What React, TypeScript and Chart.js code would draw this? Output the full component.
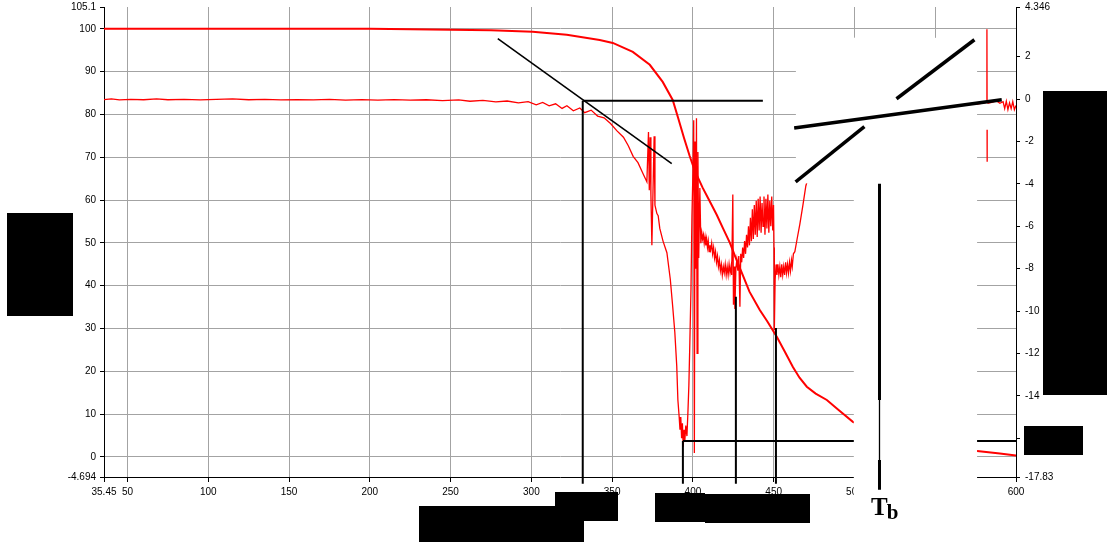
import React, { useEffect, useRef } from 'react';
import { Chart, registerables } from 'chart.js';

Chart.register(...registerables);

// ---------- axes ----------
const X_MIN = 35.45;
const X_MAX = 600;
const X_TICKS = [35.45, 50, 100, 150, 200, 250, 300, 350, 400, 450, 500, 550, 600];
const Y_MIN = -4.694;
const Y_MAX = 105.1;
const Y_TICKS = [-4.694, 0, 10, 20, 30, 40, 50, 60, 70, 80, 90, 100, 105.1];
const Y1_MIN = -17.83;
const Y1_MAX = 4.346;
const Y1_TICKS = [-17.83, -16, -14, -12, -10, -8, -6, -4, -2, 0, 2, 4.346];

// ---------- TG curve (weight %, left axis) ----------
const TG_T = [35.45, 100, 200, 225, 250, 275, 300.8, 321.9, 342.3, 350.4, 362.8, 373.3, 381.3, 387.5, 391, 394.5, 398, 401.2, 406, 410, 414.8, 418.5, 422.9, 426.5, 430.3, 435, 441.4, 446, 452, 457, 461.9, 466, 470.5, 476, 482.9, 490, 499, 510, 525, 545, 560, 575.9, 590, 600];
const TG_W = [100, 100, 100, 99.9, 99.8, 99.65, 99.3, 98.6, 97.4, 96.7, 94.6, 91.6, 87.6, 83.4, 79.0, 74.5, 70.3, 66.8, 62.9, 60.0, 56.5, 53.5, 50.0, 46.5, 43.0, 38.6, 34.3, 31.7, 28.0, 24.5, 21.0, 18.5, 16.4, 14.8, 13.3, 11.0, 8.2, 6.5, 4.6, 3.0, 2.2, 1.4, 0.8, 0.3];

// ---------- DTG curve (right axis) ----------
const DTG_T = [
  35.45, 40, 45, 52, 60, 68, 75, 85, 95, 105, 115, 125, 135, 145, 155, 165, 175, 185, 195, 205, 215, 225, 235, 245,
  255, 262, 270, 278, 285, 292, 298, 303, 307, 311, 315, 319, 322, 326, 330, 333, 337, 341, 345, 349, 353, 357, 360,
  363, 366, 369, 371.5, 372.5, 373, 373.5, 374, 374.6, 375.2, 376, 376.5, 377.7, 378.5, 379.5, 381.5, 383.9, 386,
  387.5, 388.8, 390, 390.7, 391.5, 392, 392.5, 393, 393.5, 394, 394.5, 395, 395.6, 396.3, 396.9, 397.5, 398.1, 398.8,
  399.4, 400, 400.5, 400.9, 401.3, 401.8, 402.2, 402.6, 403.1, 403.6, 404.3, 404.9,
  405.5, 406, 406.5, 407, 407.5, 408, 408.5, 409, 409.5, 410, 410.5, 411, 411.6, 412.2, 412.8, 413.4, 414, 414.6,
  415.2, 415.8, 416.4, 417, 417.6, 418.2, 418.8, 419.4, 420, 420.6, 421.2, 421.8, 422.4, 423, 423.6, 424,
  424.7, 425.1, 425.5, 426,
  426.6, 427.2, 427.8, 428.4, 429.1, 429.6, 430.2, 430.8, 431.4, 432, 432.6, 433.2, 433.8, 434.4, 435, 435.6, 436.2,
  436.8, 437.4, 438, 438.6, 439.2, 439.8, 440.4, 441, 441.6, 442.2, 442.8, 443.4, 444, 444.6, 445.2, 445.8, 446.4,
  447, 447.6, 448.2, 448.8, 449.4, 449.9, 450.2, 450.4,
  450.9, 451.5, 452, 452.6, 453.2, 453.8, 454.4, 455, 455.6, 456.2, 456.8, 457.4, 458, 458.6, 459.2, 459.8, 460.4,
  461, 461.5, 462.2, 463.1, 464.5, 466.2, 468.1, 469.9, 471, 480, 500, 520, 540, 560, 575,
  581.8, 582, 582.1, 582.1, 582.1, 582.15, 582.2, 582.3, 585, 587.8, 590, 592, 593, 594, 595, 596, 597, 598, 599, 600,
];
const DTG_V = [
  -0.02, 0.01, -0.04, -0.01, -0.03, 0.01, -0.03, -0.01, -0.04, -0.01, 0.01, -0.03, -0.01, -0.04, -0.02, -0.04, -0.01, -0.05, -0.02, -0.05, -0.02, -0.05, -0.03, -0.07,
  -0.04, -0.10, -0.06, -0.13, -0.09, -0.18, -0.12, -0.27, -0.16, -0.32, -0.22, -0.44, -0.31, -0.55, -0.42, -0.64, -0.52, -0.80, -0.88, -1.15, -1.50, -1.80, -2.20,
  -2.70, -3.00, -3.50, -3.90, -1.55, -4.30, -1.80, -4.50, -6.90, -4.70, -1.75, -5.00, -5.40, -5.50, -6.10, -6.70, -7.25, -8.50,
  -9.80, -11.00, -12.60, -14.20, -15.00, -15.60, -15.00, -16.00, -15.30, -16.40, -15.60, -16.10, -15.40, -15.90, -14.80, -13.50, -11.50, -9.00,
  -5.50, -3.50, -1.00, -16.70, -2.00, -8.00, -0.90, -12.00, -2.50, -7.50, -4.20, -6.80,
  -6.30, -6.60, -6.40, -6.80, -6.50, -6.90, -6.60, -7.00, -6.70, -7.20, -6.90, -7.10, -6.80, -7.30, -7.00, -7.50, -7.20, -7.70,
  -7.40, -7.90, -7.60, -8.10, -7.80, -8.30, -7.90, -8.20, -7.80, -8.30, -7.90, -8.30, -7.80, -8.20, -7.90, -8.30,
  -4.50, -9.70, -7.90, -9.90,
  -8.00, -7.60, -8.10, -7.40, -9.80, -7.30, -7.70, -7.00, -7.50, -6.70, -7.30, -6.40, -7.00, -6.00, -6.90, -5.60, -6.70,
  -5.20, -6.60, -5.00, -6.40, -4.80, -6.50, -4.70, -6.20, -4.60, -6.30, -4.90, -6.00, -4.60, -6.40, -4.70, -6.10, -4.50,
  -6.30, -4.80, -6.00, -4.60, -6.20, -5.00, -7.00, -10.90,
  -8.50, -7.80, -8.30, -7.80, -8.30, -7.90, -8.40, -7.80, -8.30, -7.90, -8.30, -7.70, -8.20, -7.80, -8.20, -7.70, -8.10,
  -7.60, -7.90, -7.30, -7.20, -6.60, -5.90, -5.00, -4.10, -3.80, -2.50, -1.20, -0.80, -0.50, -0.35, -0.25,
  -0.15, 3.30, -0.10, null, -1.45, -2.95, null, -0.20, -0.15, -0.08, -0.20, -0.12, -0.45, -0.10, -0.50, -0.18, -0.45, -0.12, -0.50, -0.30,
];

// ---------- construction lines (left-axis units) ----------
const TANGENT_T = [279.2, 386.9];
const TANGENT_W = [97.7, 68.5];
const ONSET_T = [331.8, 443.3];
const ONSET_W = [83.2, 83.2];
const END_T = [393.8, 600];
const END_W = [3.74, 3.74];
const DROP_T = [331.8, 393.8, 426.6, 451.4];
const DROP_TOP = [83.2, 3.74, 37.4, 30.1];
const DROP_BOTTOM = -6.3;
const LINE_A_T = [463.75, 590.1];
const LINE_A_W = [76.9, 83.4];
const LINE_B1_T = [464.4, 505.3];
const LINE_B1_W = [64.5, 76.9];
const LINE_B2_T = [526.9, 573.4];
const LINE_B2_W = [83.9, 97.2];
const TB_T = 515.5;
const TB_THICK1 = [63.8, 13.3];
const TB_THIN = [13.3, -0.7];
const TB_THICK2 = [-0.7, -7.7];

// ---------- blanked areas (data units) ----------
const WHITE_T0 = [463.75, 499.6];
const WHITE_T1 = [500.3, 575.9];
const WHITE_TOP = [97.9, 97.9];
const WHITE_BOTTOM = [63.9, -17.5];

// ---------- redaction boxes (page pixels) ----------
const BLACK_BOXES = [
  [7, 213, 66, 103],
  [1043, 91, 64, 304],
  [1024, 426, 59, 29],
  [419, 506, 165, 36],
  [555, 492, 63, 29],
  [655, 493, 50, 29],
  [705, 494, 105, 29],
];

const GRID = '#a3a3a3';
const FONT = { family: '"Liberation Sans", Arial, sans-serif', size: 10 };

const pts = (xs: number[], ys: (number | null)[]) => xs.map((x, i) => ({ x, y: ys[i] }));

const blackLine = (xs: number[], ys: number[], width: number, order: number, overWhite = false, cap: CanvasLineCap = 'butt') => ({
  type: 'line',
  data: pts(xs, ys),
  yAxisID: 'y',
  borderColor: '#000',
  borderWidth: width,
  borderCapStyle: cap,
  pointRadius: 0,
  tension: 0,
  clip: false,
  order,
  overWhite,
});

const whiteBoxes = {
  id: 'whiteBoxes',
  beforeDatasetsDraw(chart: any) {
    chart.$wbDone = false;
  },
  beforeDatasetDraw(chart: any, args: any) {
    const ds = chart.data.datasets[args.index];
    if (!ds.overWhite || chart.$wbDone) return;
    chart.$wbDone = true;
    const xs = chart.scales.x;
    const ys = chart.scales.y;
    const ctx = chart.ctx;
    ctx.save();
    ctx.fillStyle = '#ffffff';
    WHITE_T0.forEach((t0, i) => {
      const x0 = xs.getPixelForValue(t0);
      const x1 = xs.getPixelForValue(WHITE_T1[i]);
      const y0 = ys.getPixelForValue(WHITE_TOP[i]);
      const y1 = ys.getPixelForValue(WHITE_BOTTOM[i]);
      ctx.fillRect(x0, y0, x1 - x0, y1 - y0);
    });
    ctx.restore();
  },
};

const noPad = (s: any) => {
  s.paddingTop = 0;
  s.paddingBottom = 0;
  s.paddingLeft = 0;
  s.paddingRight = 0;
};

export default function App() {
  const ref = useRef<HTMLCanvasElement>(null);

  useEffect(() => {
    const datasets: any[] = [
      {
        type: 'line',
        data: pts(TG_T, TG_W),
        yAxisID: 'y',
        borderColor: '#ff0000',
        borderWidth: 2,
        pointRadius: 0,
        tension: 0,
        order: 20,
      },
      {
        type: 'line',
        data: pts(DTG_T, DTG_V),
        yAxisID: 'y1',
        borderColor: '#ff0000',
        borderWidth: 1.3,
        pointRadius: 0,
        tension: 0,
        spanGaps: false,
        order: 20,
      },
      blackLine(TANGENT_T, TANGENT_W, 1.6, 10),
      blackLine(ONSET_T, ONSET_W, 2, 10),
      blackLine(END_T, END_W, 2, 10),
      ...DROP_T.map((t, i) => blackLine([t, t], [DROP_TOP[i], DROP_BOTTOM], 2, 10)),
      blackLine(LINE_A_T, LINE_A_W, 3.5, 1, true, 'square'),
      blackLine(LINE_B1_T, LINE_B1_W, 3.5, 1, true, 'square'),
      blackLine(LINE_B2_T, LINE_B2_W, 3.5, 1, true, 'square'),
      blackLine([TB_T, TB_T], TB_THICK1, 3, 1, true),
      blackLine([TB_T, TB_T], TB_THIN, 1.3, 1, true),
      blackLine([TB_T, TB_T], TB_THICK2, 3, 1, true),
    ];

    const chart = new Chart(ref.current as HTMLCanvasElement, {
      type: 'line',
      data: { datasets },
      plugins: [whiteBoxes],
      options: {
        animation: false,
        responsive: false,
        devicePixelRatio: 1,
        events: [],
        layout: { padding: { top: 7, left: 0, right: 0, bottom: 0 } },
        plugins: { legend: { display: false }, tooltip: { enabled: false } },
        scales: {
          x: {
            type: 'linear',
            min: X_MIN,
            max: X_MAX,
            afterBuildTicks: (s: any) => {
              s.ticks = X_TICKS.map((v) => ({ value: v }));
            },
            afterFit: (s: any) => {
              s.height = 67;
              noPad(s);
            },
            ticks: {
              autoSkip: false,
              maxRotation: 0,
              minRotation: 0,
              padding: 4,
              color: '#000',
              font: FONT,
              callback: (v: any) => String(v),
            },
            grid: {
              color: (c: any) => (c.tick && (c.tick.value === X_MIN || c.tick.value === X_MAX) ? 'rgba(0,0,0,0)' : GRID),
              tickColor: '#000',
              tickLength: 5,
            },
            border: { color: '#000', width: 1 },
          },
          y: {
            type: 'linear',
            position: 'left',
            min: Y_MIN,
            max: Y_MAX,
            afterBuildTicks: (s: any) => {
              s.ticks = Y_TICKS.map((v) => ({ value: v }));
            },
            afterFit: (s: any) => {
              s.width = 104;
              noPad(s);
            },
            ticks: {
              autoSkip: false,
              padding: 4,
              color: '#000',
              font: FONT,
              callback: (v: any) => String(v),
            },
            grid: {
              color: (c: any) => (c.tick && (c.tick.value === Y_MIN || c.tick.value === Y_MAX) ? 'rgba(0,0,0,0)' : GRID),
              tickColor: '#000',
              tickLength: 4,
            },
            border: { color: '#000', width: 1 },
          },
          y1: {
            type: 'linear',
            position: 'right',
            min: Y1_MIN,
            max: Y1_MAX,
            afterBuildTicks: (s: any) => {
              s.ticks = Y1_TICKS.map((v) => ({ value: v }));
            },
            afterFit: (s: any) => {
              s.width = 91;
              noPad(s);
            },
            ticks: {
              autoSkip: false,
              padding: 5,
              color: '#000',
              font: FONT,
              callback: (v: any) => String(v),
            },
            grid: {
              drawOnChartArea: false,
              tickColor: '#000',
              tickLength: 4,
            },
            border: { color: '#000', width: 1 },
          },
        },
      } as any,
    } as any);
    return () => chart.destroy();
  }, []);

  return (
    <div style={{ position: 'absolute', left: 0, top: 0, width: 1107, height: 544, background: '#fff', overflow: 'hidden' }}>
      <canvas ref={ref} width={1107} height={544} style={{ display: 'block', width: 1107, height: 544 }} />
      {BLACK_BOXES.map(([l, t, w, h], i) => (
        <div key={i} style={{ position: 'absolute', left: l, top: t, width: w, height: h, background: '#000' }} />
      ))}
      <div
        style={{
          position: 'absolute',
          left: 871,
          top: 494,
          font: 'bold 25px "Liberation Serif", "Times New Roman", serif',
          lineHeight: '25px',
          color: '#000',
          whiteSpace: 'nowrap',
        }}
      >
        T<span style={{ fontSize: 21, position: 'relative', top: 4, marginLeft: -1 }}>b</span>
      </div>
    </div>
  );
}
